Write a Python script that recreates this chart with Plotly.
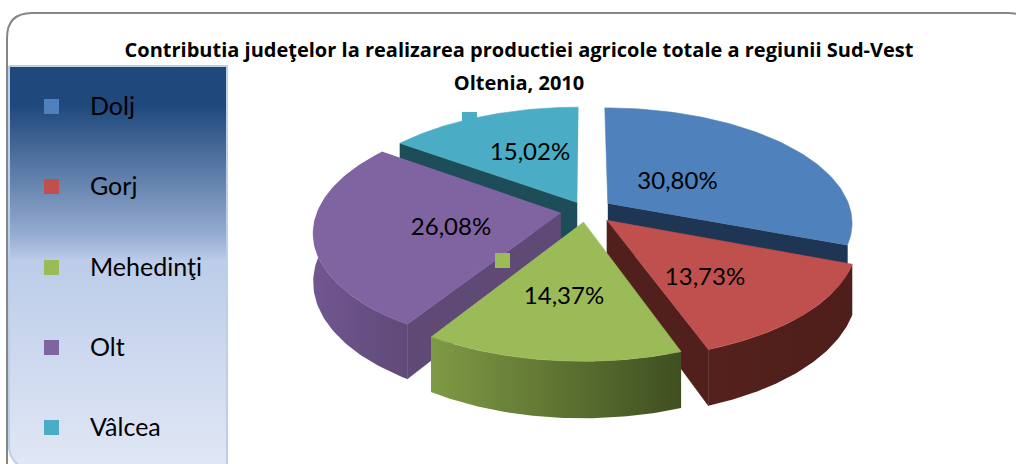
import numpy as np
import plotly.graph_objects as go

# ---- data ----
categories = ["Dolj", "Gorj", "Mehedinţi", "Olt", "Vâlcea"]
values = [30.80, 13.73, 14.37, 26.08, 15.02]
title_lines = ["Contributia judeţelor la realizarea productiei agricole totale a regiunii Sud-Vest", "Oltenia, 2010"]

# ---- styles ----
top_colors = ["#4f81bd", "#c0504d", "#9bbb59", "#8064a2", "#4bacc6"]
side_colors = ["#1f3554", "#52201c", "#4a5a26", "#5e4a75", "#1d4d58"]
wall_left = ["#2c4a70", "#55211d", "#7f9a45", "#715690", "#2f7484"]
wall_right = ["#243c5c", "#4e1e1a", "#3f4f20", "#5f4a78", "#2a6574"]
show_wall = [False, True, True, True, False]
explode = [0.11, 0.12, 0.10, 0.105, 0.08]
draw_order = [4, 0, 3, 1, 2]

CX, CY, RX, RY, DEPTH, PERSP = 586.0, 210.5, 243.0, 113.0, 47.0, 0.16
FONT = "Lato"
TITLE_FONT = "Open Sans"


def project(u, v, h=0.0):
    s = 1.0 / (1.0 - PERSP * v)
    return CX + RX * u * s, CY + RY * v * s + DEPTH * h * s


def polygon(xs, ys, color=None, grad=None):
    if grad:
        kw = dict(fillgradient=grad, line=dict(width=0))
    else:
        kw = dict(fillcolor=color, line=dict(width=0.6, color=color))
    return go.Scatter(x=list(xs), y=list(ys), mode="lines", fill="toself",
                      hoverinfo="skip", showlegend=False, **kw)


fig = go.Figure()

# legend panel
px0, px1, py0, py1, pr = 9, 227, 66, 470, 24
arc = np.radians(np.linspace(90, 180, 16))
panel_x = [px0, px1, px1] + list(px0 + pr + pr * np.cos(arc)) + [px0]
panel_y = [py0, py0, py1] + list(py1 - pr + pr * np.sin(arc)) + [py0]
fig.add_trace(go.Scatter(
    x=panel_x, y=panel_y, mode="lines", fill="toself", hoverinfo="skip", showlegend=False,
    line=dict(width=2, color="#bccfe8"),
    fillgradient=dict(type="vertical", start=66, stop=464, colorscale=[
        [0.0, "#1f497d"], [0.1, "#1f497d"], [0.42, "#94aad0"], [0.49, "#bccce9"], [1.0, "#e0e7f5"]])))

# exploded perspective pie
edges = np.concatenate([[0], np.cumsum(values)]) / sum(values) * 2 * np.pi
for i in draw_order:
    a0, a1 = edges[i], edges[i + 1]
    mid = (a0 + a1) / 2
    ou, ov = explode[i] * np.sin(mid), -explode[i] * np.cos(mid)
    t = np.linspace(a0, a1, 80)
    u, v = ou + np.sin(t), ov - np.cos(t)
    ax_t, ay_t = project(ou, ov)
    ax_b, ay_b = project(ou, ov, 1)
    rx_t, ry_t = project(u, v)
    rx_b, ry_b = project(u, v, 1)
    # outer wall
    if show_wall[i]:
        wx = np.concatenate([rx_t, rx_b[::-1]])
        wy = np.concatenate([ry_t, ry_b[::-1]])
        fig.add_trace(polygon(wx, wy, grad=dict(
            type="horizontal", start=float(rx_t.min()), stop=float(rx_t.max()),
            colorscale=[[0, wall_left[i]], [1, wall_right[i]]])))
    # cut faces that look towards the viewer
    if a1 < np.pi:
        fig.add_trace(polygon([ax_t, rx_t[-1], rx_b[-1], ax_b], [ay_t, ry_t[-1], ry_b[-1], ay_b], side_colors[i]))
    if a0 >= np.pi:
        fig.add_trace(polygon([ax_t, rx_t[0], rx_b[0], ax_b], [ay_t, ry_t[0], ry_b[0], ay_b], side_colors[i]))
    # top face
    fig.add_trace(polygon(np.concatenate([[ax_t], rx_t]), np.concatenate([[ay_t], ry_t]), top_colors[i]))

# data-label keys left over on the pie
fig.add_trace(go.Scatter(
    x=[391, 502.5, 469.5], y=[194, 260.5, 119.5], mode="markers", hoverinfo="skip", showlegend=False,
    marker=dict(symbol="square", size=15, color=[top_colors[3], top_colors[2], top_colors[4]], line=dict(width=0))))

# data labels
label_x = [677.5, 705, 564, 451, 530]
label_y = [183, 279, 298, 229, 154]
fig.add_trace(go.Scatter(
    x=label_x, y=label_y, mode="text", hoverinfo="skip", showlegend=False,
    text=[f"{val:.2f}%".replace(".", ",") for val in values],
    textposition="middle center", textfont=dict(family=FONT, size=24, color="#000000")))

# legend
legend_y = [106.5, 186.5, 267.5, 347.5, 427.5]
fig.add_trace(go.Scatter(
    x=[51.5] * 5, y=legend_y, mode="markers", hoverinfo="skip", showlegend=False,
    marker=dict(symbol="square", size=15, color=top_colors, line=dict(width=0))))
for name, ly in zip(categories, legend_y):
    fig.add_annotation(x=88, y=ly - 1.5, text=name, showarrow=False, xanchor="left", yanchor="middle",
                       font=dict(family=FONT, size=25, color="#000000"))

fig.update_layout(
    width=1016, height=464, margin=dict(l=0, r=0, t=0, b=0),
    paper_bgcolor="#ffffff", plot_bgcolor="#ffffff", showlegend=False,
    title=dict(text="<br>".join(f"<span style='font-size:20px'><b>{t}</b></span>" for t in title_lines),
               x=519 / 1016, xanchor="center", y=1 - 57 / 464, yanchor="top",
               font=dict(family=TITLE_FONT, size=25.4, color="#000000")),
    xaxis=dict(range=[0, 1016], visible=False, fixedrange=True),
    yaxis=dict(range=[464, 0], visible=False, fixedrange=True),
    shapes=[dict(type="path", xref="x", yref="y", layer="above",
                 path="M 7,480 L 7,38 Q 7,13 32,13 L 1008,13 Q 1033,13 1033,38 L 1033,480",
                 line=dict(color="#868686", width=2))],
)
fig.write_html("out.html", config=dict(displayModeBar=False),
               post_script="document.body.style.margin='0';document.documentElement.style.overflow='hidden';")
